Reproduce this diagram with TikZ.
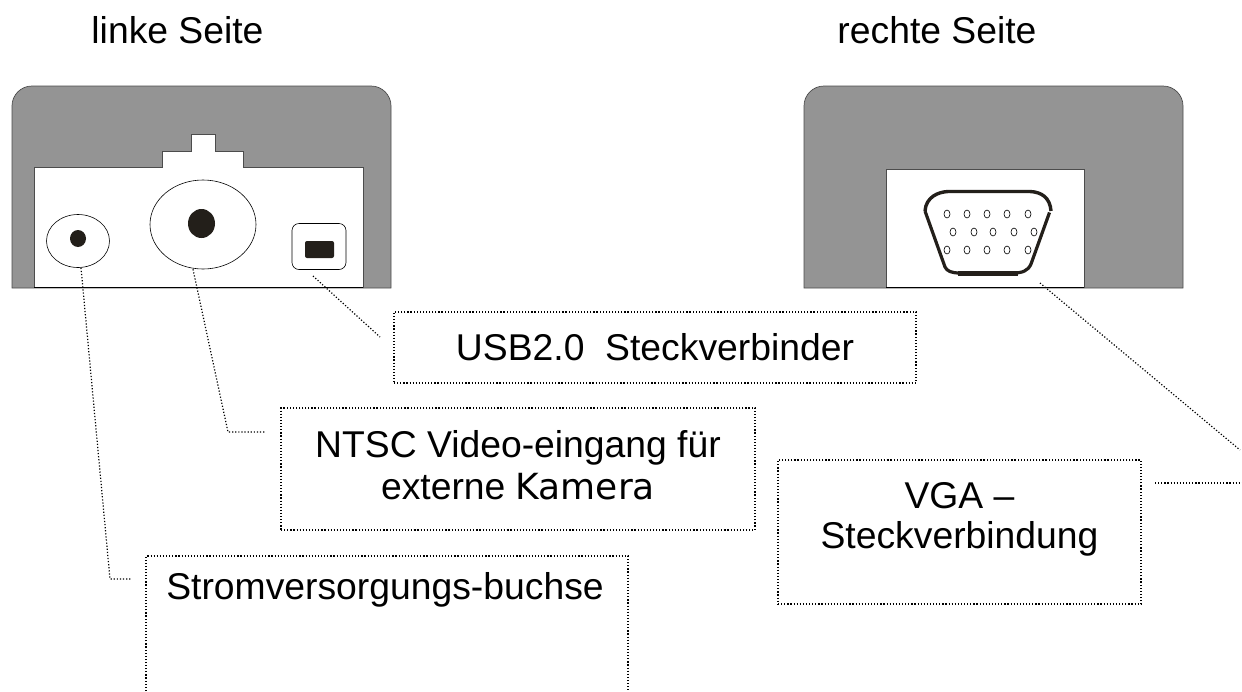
\documentclass[tikz,border=0pt]{standalone}
\usepackage{fontspec}
\setmainfont{Liberation Sans}
\newfontfamily\kamfont{DejaVu Sans}
\usetikzlibrary{shapes.geometric}
\definecolor{bodygray}{HTML}{949494}
\definecolor{holeblack}{HTML}{231F1A}
\tikzset{
	leader/.style={line width=1.2pt,dash pattern=on 1.2pt off 1.9pt},
	labelbox/.style={draw,leader,inner sep=0pt},
	plain/.style={inner sep=0pt,align=center,font=\fontsize{37.3}{40}\selectfont},
	body/.style={draw=black!70,fill=bodygray,line width=0.7pt},
	panel/.style={draw=black!70,fill=white,line width=0.7pt},
	port/.style={draw,ellipse,fill=white,inner sep=0pt,line width=0.6pt},
	hole/.style={fill=holeblack,ellipse,inner sep=0pt},
	pin/.style={draw,ellipse,inner sep=0pt,minimum width=6pt,minimum height=8pt,line width=0.6pt},
}
\begin{document}
\begin{tikzpicture}[x=1pt,y=-1pt]
	\useasboundingbox (0,0) rectangle (1242,691);
	% titles
	\node[plain] (left) at (177.5,30) {linke Seite};
	\node[plain] (right) at (937,30) {rechte Seite};
	% left side
	\draw[body] (12,288) -- (12,106) arc (180:270:20) -- (371,86) arc (270:360:20) -- (391,288) -- cycle;
	\draw[panel] (34,288) -- (34,167) -- (162,167) -- (162,151) -- (191,151) -- (191,134) -- (215,134) -- (215,151) -- (243,151) -- (243,167) -- (363,167) -- (363,288);
	\draw[line width=1pt] (34,287.5) -- (363,287.5);
	\node[port,minimum width=63pt,minimum height=53pt] (power) at (78,241) {};
	\node[hole,minimum width=16pt,minimum height=17pt] (powerhole) at (78,238.5) {};
	\node[port,minimum width=106pt,minimum height=89pt] (video) at (203,224.5) {};
	\node[hole,minimum width=27pt,minimum height=29pt] (videohole) at (201.5,223.5) {};
	\node[draw,fill=white,rounded corners=7pt,minimum width=54pt,minimum height=46pt,inner sep=0pt,line width=0.6pt] (usb) at (319,246.5) {};
	\node[fill=holeblack,rounded corners=2pt,minimum width=29pt,minimum height=17pt,inner sep=0pt] (usbhole) at (319.5,249.5) {};
	% right side
	\draw[body] (804,288) -- (804,106) arc (180:270:20) -- (1163,86) arc (270:360:20) -- (1183,288) -- cycle;
	\draw[panel] (886,288) -- (886,169) -- (1084,169) -- (1084,288);
	\draw[line width=1pt] (886,287.5) -- (1084,287.5);
	\draw[line width=3.4pt,holeblack] (925,211) .. controls (926,197) and (938,192) .. (948,191.5) -- (1030,191.5) .. controls (1042,192) and (1050,198) .. (1051,211);
	\draw[line width=3.2pt,holeblack] (1049.5,212.5) -- (1031,264) .. controls (1028,271) and (1022,273) .. (1013,273) -- (960,273) .. controls (951,273) and (947,271) .. (945,267) -- (925,211);
	\draw[line width=5pt,holeblack] (958,273) -- (1018,273);
	\foreach \px in {947,967,987,1007,1028} {
		\node[pin] at (\px,214) {};
		\node[pin] at (\px,250) {};
	}
	\foreach \px in {953,974,993,1014,1034}
		\node[pin] at (\px,232) {};
	% callouts
	\node[labelbox,minimum width=522pt,minimum height=71pt] (usbbox) at (655,347.5) {};
	\node[plain] (usblabel) at (usbbox) {USB2.0\ \ Steckverbinder};
	\node[labelbox,minimum width=474pt,minimum height=122pt] (videobox) at (518,469) {};
	\node[plain,font=\fontsize{37.3}{42}\selectfont] (videolabel) at (518,465) {NTSC Video-eingang f\"ur\\externe {\kamfont\fontsize{36}{42}\selectfont Kamera}};
	\draw[leader] (146,691) -- (146,556) -- (628,556) -- (628,691);
	\node[plain] (powerbox) at (385,590) {Stromversorgungs-buchse};
	\node[labelbox,minimum width=363pt,minimum height=144pt] (vgabox) at (959.5,532) {};
	\node[plain] (vgalabel) at (959.5,519) {VGA --\\Steckverbindung};
	% leaders
	\coordinate (powerend) at (132,579);
	\coordinate (videoend) at (266,432);
	\coordinate (usbend) at (380,337);
	\coordinate (vgastart) at (1040,283);
	\coordinate (vgaend) at (1240,450);
	\coordinate (vgaout) at (1242,483);
	\coordinate (vgain) at (1155,483);
	\draw[leader] (power.south) ++(3,0) -- (110,579) -- (powerend);
	\draw[leader] (video.south) ++(-10,0) -- (228,432) -- (videoend);
	\draw[leader] (313,276) -- (usbend);
	\draw[leader] (vgastart) -- (vgaend);
	\draw[leader] (vgain) -- (vgaout);
\end{tikzpicture}
\end{document}
